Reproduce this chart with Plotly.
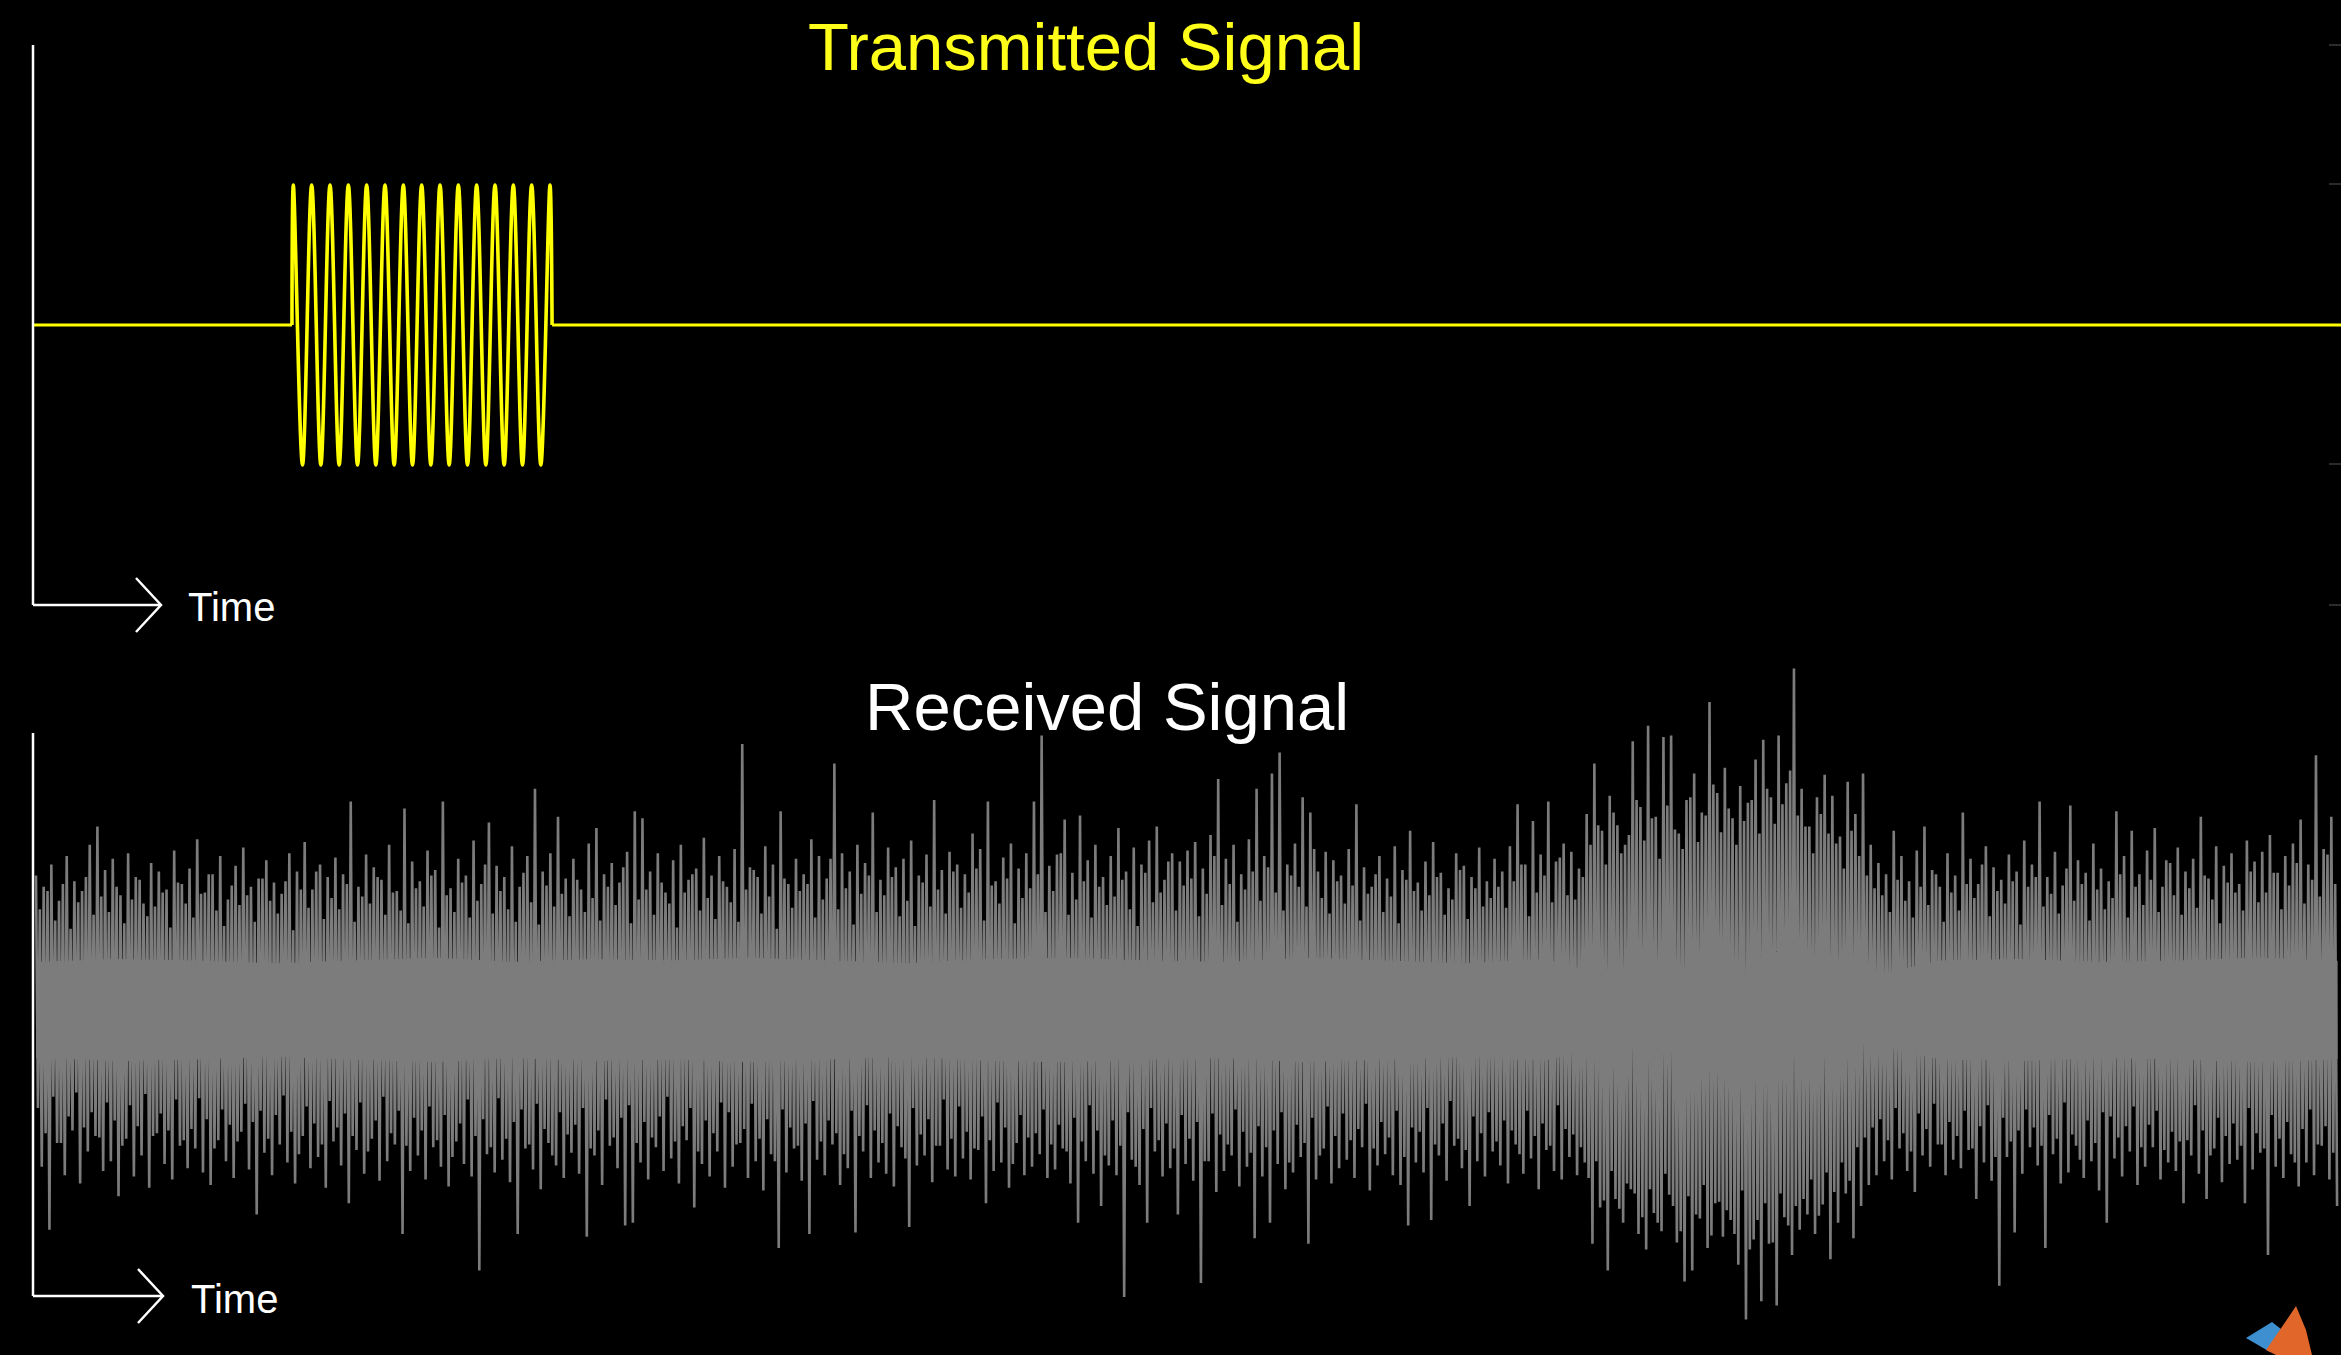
import numpy as np
import plotly.graph_objects as go

W, H = 2341, 1355

# ---------------- data ----------------
# time axis: 0..100 (arbitrary units) across the plot width
tx_burst_start = 11.22
tx_burst_end = 22.49
tx_first_peak = 11.28
tx_last_peak = 22.40
# alternating peak values of the transmitted burst (15 crests, 14 troughs)
tx_peaks = [100, -100, 100, -100, 100, -100, 100, -100, 100, -100,
            100, -100, 100, -100, 100, -100, 100, -100, 100, -100,
            100, -100, 100, -100, 100, -100, 100, -100, 100]

# received signal: main local maxima / minima (300 each)
rx_hi = [
    96, 88, 104, 78, 110, 92, 85, 118, 131, 100,
    108, 82, 112, 95, 76, 105, 99, 86, 114, 90,
    101, 122, 84, 97, 110, 79, 103, 116, 88, 94,
    107, 91, 83, 112, 99, 120, 86, 104, 95, 109,
    97, 149, 88, 111, 102, 93, 118, 85, 144, 106,
    92, 114, 100, 149, 87, 108, 96, 121, 90, 134,
    103, 95, 117, 88, 110, 158, 99, 112, 138, 94,
    108, 86, 119, 130, 97, 105, 91, 113, 142, 137,
    99, 112, 84, 107, 118, 93, 101, 123, 96, 110,
    88, 115, 190, 102, 95, 117, 104, 142, 90, 108,
    97, 122, 110, 94, 176, 112, 99, 118, 105, 141,
    93, 116, 102, 108, 121, 96, 111, 150, 100, 113,
    104, 97, 126, 115, 149, 92, 109, 119, 101, 112,
    149, 196, 103, 111, 136, 98, 139, 107, 118, 95,
    110, 130, 99, 116, 104, 121, 131, 93, 112, 106,
    114, 120, 101, 125, 165, 108, 118, 97, 122, 158,
    110, 169, 184, 104, 119, 152, 141, 99, 113, 107,
    96, 115, 147, 102, 88, 110, 94, 117, 100, 128,
    91, 106, 120, 98, 87, 112, 103, 95, 116, 92,
    108, 99, 117, 147, 104, 135, 111, 149, 106, 119,
    113, 101, 140, 176, 128, 153, 132, 118, 192, 145,
    203, 138, 195, 196, 126, 150, 169, 141, 220, 155,
    173, 137, 160, 148, 179, 193, 152, 196, 162, 244,
    158, 131, 152, 168, 153, 124, 163, 140, 169, 118,
    105, 97, 128, 110, 92, 114, 131, 100, 88, 112,
    96, 141, 108, 90, 117, 102, 93, 111, 99, 121,
    104, 149, 95, 113, 89, 146, 107, 98, 119, 101,
    92, 142, 110, 128, 97, 114, 130, 88, 105, 116,
    99, 108, 138, 94, 117, 103, 112, 90, 121, 106,
    113, 125, 98, 110, 119, 136, 104, 182, 115, 138,
]
rx_lo = [
    -112, -157, -95, -118, -86, -124, -101, -90, -115, -108,
    -133, -92, -119, -104, -127, -88, -110, -121, -97, -113,
    -99, -116, -125, -93, -108, -120, -87, -114, -146, -102,
    -118, -96, -109, -124, -90, -113, -105, -127, -94, -111,
    -138, -100, -117, -92, -122, -108, -96, -160, -115, -104,
    -121, -98, -112, -126, -94, -110, -119, -186, -103, -116,
    -107, -123, -160, -99, -114, -128, -95, -111, -120, -102,
    -117, -162, -104, -125, -97, -113, -154, -152, -109, -121,
    -98, -115, -106, -124, -93, -141, -110, -119, -101, -127,
    -112, -95, -120, -108, -129, -103, -170, -116, -99, -122,
    -160, -107, -118, -96, -125, -113, -159, -101, -120, -109,
    -117, -126, -98, -155, -111, -104, -123, -97, -114, -119,
    -106, -121, -100, -138, -115, -109, -127, -95, -118, -112,
    -103, -120, -114, -99, -124, -152, -108, -117, -140, -111,
    -118, -205, -107, -125, -152, -101, -119, -113, -146, -110,
    -122, -195, -108, -130, -115, -104, -126, -112, -163, -119,
    -152, -110, -128, -116, -105, -167, -121, -99, -124, -113,
    -107, -120, -98, -129, -111, -103, -118, -125, -154, -109,
    -116, -150, -104, -122, -97, -113, -140, -108, -119, -101,
    -111, -124, -96, -117, -106, -128, -100, -115, -121, -105,
    -118, -109, -167, -141, -186, -135, -152, -128, -160, -171,
    -145, -158, -132, -166, -194, -186, -149, -170, -138, -162,
    -150, -182, -221, -164, -208, -167, -211, -148, -175, -157,
    -146, -160, -139, -178, -152, -131, -163, -140, -125, -118,
    -108, -121, -99, -115, -130, -104, -112, -96, -118, -107,
    -113, -100, -135, -109, -122, -197, -105, -159, -117, -98,
    -111, -170, -103, -124, -116, -97, -120, -108, -129, -152,
    -106, -119, -101, -125, -112, -98, -121, -109, -115, -138,
    -104, -117, -135, -99, -123, -110, -107, -138, -114, -102,
    -175, -112, -120, -103, -126, -109, -118, -97, -121, -140,
]
# secondary (smaller) maxima / minima lying between the main ones
rx_hi2 = [
    72, 85, 64, 90, 58, 77, 95, 68, 81, 70,
    88, 62, 79, 93, 67, 74, 84, 59, 91, 76,
    66, 83, 97, 71, 60, 89, 75, 82, 63, 94,
    78, 69, 92, 57, 86, 73, 99, 65, 80, 72,
    90, 63, 81, 76, 95, 68, 84, 71, 62, 87,
    74, 96, 59, 82, 70, 91, 66, 78, 104, 69,
    85, 72, 63, 98, 77, 61, 89, 74, 83, 67,
    93, 70, 80, 64, 88, 75, 102, 62, 79, 86,
    68, 91, 76, 59, 84, 97, 71, 80, 65, 92,
    77, 63, 86, 100, 69, 81, 58, 94, 73, 85,
    90, 66, 79, 108, 72, 87, 61, 83, 96, 70,
    82, 95, 67, 78, 60, 91, 74, 86, 69, 99,
    73, 84, 101, 64, 89, 76, 94, 62, 80, 87,
    97, 70, 85, 112, 68, 79, 92, 66, 88, 75,
    81, 93, 72, 60, 98, 77, 84, 106, 71, 89,
    94, 67, 83, 110, 75, 90, 63, 86, 99, 78,
    102, 84, 71, 96, 88, 74, 115, 80, 69, 92,
    76, 89, 64, 83, 97, 70, 81, 62, 93, 85,
    71, 82, 95, 68, 79, 100, 65, 87, 74, 80,
    88, 73, 92, 104, 67, 84, 96, 77, 109, 82,
    79, 95, 118, 132, 104, 141, 112, 125, 150, 121,
    137, 108, 146, 129, 115, 152, 120, 139, 161, 127,
    144, 118, 135, 150, 126, 158, 133, 147, 171, 139,
    131, 112, 140, 126, 119, 101, 128, 110, 96, 87,
    82, 70, 93, 78, 66, 88, 75, 97, 63, 84,
    71, 90, 80, 104, 67, 85, 76, 92, 61, 88,
    95, 74, 83, 69, 101, 78, 90, 64, 86, 72,
    80, 97, 66, 88, 75, 93, 70, 107, 82, 68,
    87, 73, 96, 79, 62, 91, 84, 71, 99, 77,
    84, 98, 72, 89, 105, 76, 93, 81, 111, 90,
]
rx_lo2 = [
    -70, -88, -62, -95, -76, -59, -84, -73, -91, -66,
    -79, -97, -68, -83, -60, -90, -74, -86, -64, -93,
    -85, -63, -78, -99, -71, -82, -94, -67, -80, -72,
    -92, -75, -61, -87, -103, -69, -81, -96, -65, -84,
    -74, -90, -66, -101, -79, -62, -88, -72, -97, -77,
    -86, -69, -93, -75, -105, -81, -64, -90, -78, -98,
    -63, -92, -80, -71, -96, -67, -85, -104, -73, -89,
    -82, -70, -99, -86, -64, -91, -77, -68, -95, -80,
    -91, -76, -62, -94, -83, -70, -101, -79, -88, -66,
    -73, -96, -85, -67, -92, -78, -108, -71, -84, -97,
    -81, -65, -94, -79, -88, -103, -72, -90, -68, -86,
    -95, -74, -83, -106, -70, -89, -78, -97, -64, -92,
    -69, -87, -99, -76, -93, -66, -84, -110, -75, -91,
    -88, -71, -96, -82, -101, -77, -94, -68, -86, -104,
    -79, -97, -73, -112, -85, -70, -93, -81, -99, -75,
    -92, -80, -108, -74, -89, -96, -71, -87, -102, -83,
    -98, -86, -73, -109, -82, -95, -77, -104, -69, -90,
    -74, -93, -85, -67, -99, -80, -91, -72, -105, -84,
    -87, -70, -96, -81, -65, -92, -100, -76, -88, -73,
    -94, -79, -86, -103, -72, -90, -81, -97, -68, -85,
    -89, -98, -120, -108, -136, -115, -142, -124, -131, -148,
    -128, -152, -117, -140, -158, -133, -146, -125, -161, -137,
    -143, -160, -129, -171, -150, -138, -166, -131, -154, -140,
    -135, -121, -147, -116, -130, -109, -122, -98, -91, -84,
    -78, -93, -70, -88, -101, -74, -85, -67, -96, -80,
    -90, -72, -99, -83, -68, -105, -77, -94, -86, -71,
    -84, -97, -75, -92, -66, -89, -107, -79, -95, -73,
    -76, -91, -83, -69, -98, -82, -72, -100, -87, -94,
    -93, -68, -86, -104, -77, -90, -81, -97, -70, -88,
    -99, -75, -92, -80, -109, -85, -71, -96, -83, -102,
]
# half-height of the dense (solid) core of the received noise, per block
rx_core = [34, 36, 35, 33, 35, 37, 34, 36, 35, 37,
           35, 33, 36, 37, 35, 34, 37, 35, 33, 36,
           22, 16, 16, 22, 35, 36, 34, 35, 37, 35]
rx_t_start, rx_t_end = 0.13, 99.83

# ---------------- figure ----------------
fig = go.Figure()

x0p = 33 / W
YEL = "#ffff00"
GRAY = "#7c7c7c"

# transmitted signal
n_pk = len(tx_peaks)
pk_t = np.linspace(tx_first_peak, tx_last_peak, n_pk)
fig.add_trace(go.Scatter(x=[0, tx_burst_start], y=[0, 0], mode="lines",
                         line=dict(color=YEL, width=3), xaxis="x", yaxis="y",
                         hoverinfo="skip", showlegend=False))
fig.add_trace(go.Scatter(x=[tx_burst_start] + list(pk_t) + [tx_burst_end],
                         y=[0] + tx_peaks + [0], mode="lines",
                         line=dict(color=YEL, width=3.6, shape="spline", smoothing=1.0),
                         xaxis="x", yaxis="y", hoverinfo="skip", showlegend=False))
fig.add_trace(go.Scatter(x=[tx_burst_end, 100], y=[0, 0], mode="lines",
                         line=dict(color=YEL, width=3), xaxis="x", yaxis="y",
                         hoverinfo="skip", showlegend=False))

# received signal: dense core
core = np.array(rx_core, dtype=float)
ct = np.linspace(rx_t_start, rx_t_end, len(core))
fig.add_trace(go.Scatter(x=list(ct) + list(ct[::-1]),
                         y=list(core) + list(-core[::-1]),
                         fill="toself", fillcolor=GRAY, mode="lines",
                         line=dict(color=GRAY, width=1),
                         xaxis="x2", yaxis="y2", hoverinfo="skip", showlegend=False))
# received signal: samples through the extremes (hi, lo2, hi2, lo per step)
n = len(rx_hi)
ry = np.empty(4 * n)
ry[0::4] = rx_hi
ry[1::4] = rx_lo2
ry[2::4] = rx_hi2
ry[3::4] = rx_lo
rt = np.linspace(rx_t_start, rx_t_end, len(ry))
fig.add_trace(go.Scatter(x=rt, y=ry, mode="lines",
                         line=dict(color=GRAY, width=2.6),
                         xaxis="x2", yaxis="y2", hoverinfo="skip", showlegend=False))

# ---------------- decorations ----------------
def px(x):
    return x / W

def py(y):
    return 1 - y / H

shapes = []
white = dict(color="white", width=2.5)
for (vt, vb, hx, cy) in [(45, 605, 161, 605), (733, 1296, 163, 1296)]:
    shapes.append(dict(type="line", xref="paper", yref="paper",
                       x0=px(33), y0=py(vt), x1=px(33), y1=py(vb), line=white))
    shapes.append(dict(type="line", xref="paper", yref="paper",
                       x0=px(33), y0=py(cy), x1=px(hx), y1=py(cy), line=white))
    shapes.append(dict(type="path", xref="paper", yref="paper",
                       path=f"M {px(hx-25)} {py(cy-27)} L {px(hx)} {py(cy)} L {px(hx-25)} {py(cy+27)}",
                       line=white))
for ty in [45, 184, 464, 605]:
    shapes.append(dict(type="line", xref="paper", yref="paper",
                       x0=px(2329), y0=py(ty), x1=px(2341), y1=py(ty),
                       line=dict(color="#3a3a3a", width=1.5)))
# small logo in the corner
shapes.append(dict(type="path", xref="paper", yref="paper",
                   path=f"M {px(2246)} {py(1338)} L {px(2272)} {py(1322)} L {px(2290)} {py(1336)} L {px(2270)} {py(1352)} Z",
                   fillcolor="#3d8fd0", line=dict(width=0)))
shapes.append(dict(type="path", xref="paper", yref="paper",
                   path=f"M {px(2266)} {py(1350)} L {px(2288)} {py(1318)} L {px(2296)} {py(1306)} L {px(2306)} {py(1330)} L {px(2312)} {py(1355)} L {px(2276)} {py(1355)} Z",
                   fillcolor="#e0662a", line=dict(width=0)))

font = "Liberation Sans, Arial, Helvetica, sans-serif"
annotations = [
    dict(text="Transmitted Signal", x=px(1086), y=py(47), xref="paper", yref="paper",
         xanchor="center", yanchor="middle", showarrow=False,
         font=dict(family=font, size=67, color="#ffff1a")),
    dict(text="Received Signal", x=px(1107), y=py(706), xref="paper", yref="paper",
         xanchor="center", yanchor="middle", showarrow=False,
         font=dict(family=font, size=67, color="white")),
    dict(text="Time", x=px(186), y=py(607), xref="paper", yref="paper",
         xanchor="left", yanchor="middle", showarrow=False,
         font=dict(family=font, size=40, color="white")),
    dict(text="Time", x=px(189), y=py(1299), xref="paper", yref="paper",
         xanchor="left", yanchor="middle", showarrow=False,
         font=dict(family=font, size=40, color="white")),
]

hidden = dict(visible=False, showgrid=False, zeroline=False, fixedrange=True)
fig.update_layout(
    width=W, height=H,
    margin=dict(l=0, r=0, t=0, b=0),
    paper_bgcolor="black", plot_bgcolor="black",
    showlegend=False,
    xaxis=dict(domain=[x0p, 1], range=[0, 100], anchor="y", **hidden),
    yaxis=dict(domain=[py(605), py(45)], range=[-200, 200], anchor="x", **hidden),
    xaxis2=dict(domain=[x0p, 1], range=[0, 100], anchor="y2", **hidden),
    yaxis2=dict(domain=[0, py(640)], range=[-(1355 - 1010) / 1.4, (1010 - 640) / 1.4],
                anchor="x2", **hidden),
    shapes=shapes,
    annotations=annotations,
)

fig.write_html("out.html")
